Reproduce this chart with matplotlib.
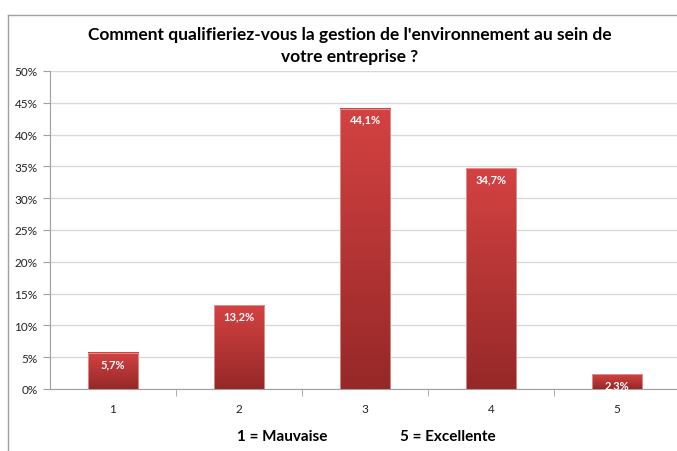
import numpy as np
import matplotlib.pyplot as plt
from matplotlib.patches import Rectangle
from matplotlib.colors import LinearSegmentedColormap

# data
categories = ['1', '2', '3', '4', '5']
values = [5.7, 13.2, 44.1, 34.7, 2.3]
labels = ['5,7%', '13,2%', '44,1%', '34,7%', '2,3%']
yticks = [0, 5, 10, 15, 20, 25, 30, 35, 40, 45, 50]

plt.rcParams['font.family'] = ['Lato', 'DejaVu Sans']

fig = plt.figure(figsize=(6.77, 4.52), dpi=100)
W, H = 677, 452

# outer frame (left and top edges visible)
fig.add_artist(plt.Line2D([8 / W, 8 / W], [0, 1 - 16 / H], color='#a0a0a0', lw=1.0))
fig.add_artist(plt.Line2D([8 / W, 1], [1 - 16 / H, 1 - 16 / H], color='#a0a0a0', lw=1.0))

left, right = 50 / W, 677 / W
bottom, top = 1 - 390 / H, 1 - 72 / H
ax = fig.add_axes([left, bottom, right - left, top - bottom])

x = np.arange(1, len(categories) + 1)
ax.set_xlim(0.5, 0.5 + (677 - 50) / 126)
ax.set_ylim(0, 50)

cmap = LinearSegmentedColormap.from_list('red', ['#962828', '#d44242'])
grad = np.linspace(0, 1, 256).reshape(-1, 1)
width = 0.4
for xi, v, lab in zip(x, values, labels):
    ax.imshow(grad, cmap=cmap, aspect='auto', origin='lower',
              extent=(xi - width / 2, xi + width / 2, 0, v), zorder=3)
    ax.add_patch(Rectangle((xi - width / 2, 0), width, v, fill=False,
                           edgecolor='#e6b0b0', lw=0.5, zorder=4))
    ax.text(xi, v - 1.7, lab, ha='center', va='center', color='white',
            fontsize=8, fontweight='bold', zorder=5)

ax.set_yticks(yticks)
ax.set_yticklabels([f'{t}%' for t in yticks], fontsize=8.5, color='#222222')
ax.yaxis.grid(True, color='#d9d9d9', lw=1.0)
ax.set_axisbelow(True)

ax.set_xticks(x)
ax.set_xticklabels(categories, fontsize=8.5, color='#222222')
ax.tick_params(axis='x', length=0, pad=10)
ax.tick_params(axis='y', length=5, color='#a0a0a0', direction='out', pad=4)
# category separator ticks
ax.set_xticks(x[:-1] + 0.5, minor=True)
ax.tick_params(axis='x', which='minor', length=5, color='#a0a0a0')

for s in ['top', 'right']:
    ax.spines[s].set_visible(False)
ax.spines['left'].set_color('#a0a0a0')
ax.spines['bottom'].set_color('#a0a0a0')

fig.text(350 / W, 1 - 46 / H,
         "Comment qualifieriez-vous la gestion de l'environnement au sein de\nvotre entreprise ?",
         ha='center', va='center', fontsize=12.5, fontweight='bold', linespacing=1.5)
fig.text(282 / W, 1 - 437 / H, '1 = Mauvaise', ha='center', va='center',
         fontsize=11, fontweight='bold')
fig.text(448 / W, 1 - 437 / H, '5 = Excellente', ha='center', va='center',
         fontsize=11, fontweight='bold')

fig.savefig('out.png', dpi=100)
